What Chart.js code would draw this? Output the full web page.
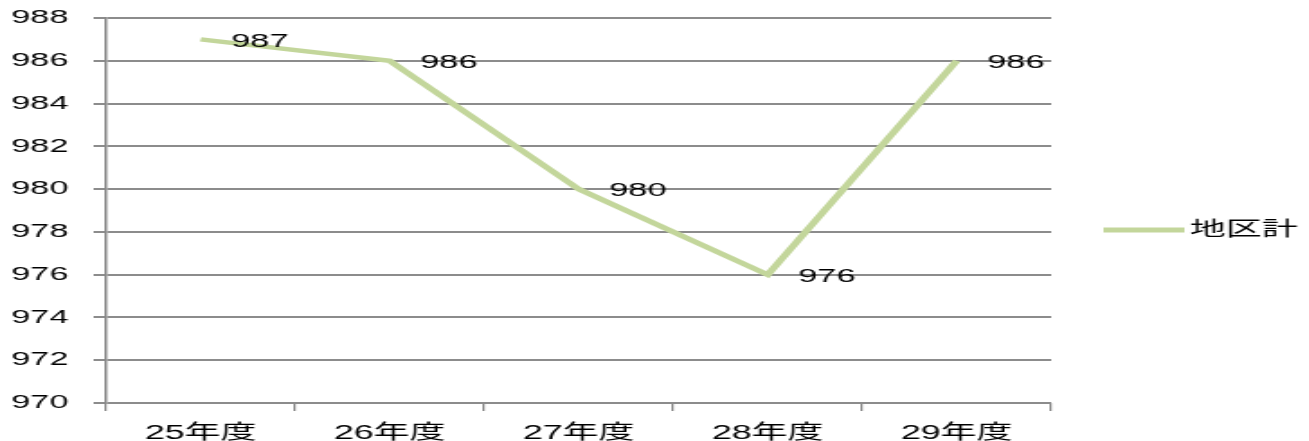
<!DOCTYPE html>
<html>
<head>
<meta charset="utf-8">
<script src="https://cdn.jsdelivr.net/npm/chart.js@4"></script>
<style>
  html, body { margin: 0; padding: 0; background: #fff; overflow: hidden; }
  /* the original picture is a chart stretched sideways, so draw narrow and widen it */
  #wrap { width: 727px; height: 441px; transform: scaleX(1.8); transform-origin: 0 0; }
</style>
</head>
<body>
<div id="wrap"><canvas id="myLineChart" width="727" height="441"></canvas></div>
<script>
// values
const categories = ['25年度', '26年度', '27年度', '28年度', '29年度'];
const seriesName = '地区計';
const totals = [987, 986, 980, 976, 986];
const yTicks = [970, 972, 974, 976, 978, 980, 982, 984, 986, 988];

const lineColor = '#c3d69b';
const font = '"Liberation Sans", "Noto Sans CJK JP", sans-serif';

// value labels to the right of each point + legend on the right
const labelsPlugin = {
  id: 'labels',
  afterDatasetsDraw(chart) {
    const ctx = chart.ctx;
    const meta = chart.getDatasetMeta(0);
    ctx.save();
    ctx.font = '19px ' + font;
    ctx.fillStyle = '#000';
    ctx.textAlign = 'left';
    ctx.textBaseline = 'middle';
    meta.data.forEach((pt, i) => {
      ctx.fillText(String(totals[i]), pt.x + 17, pt.y + 2);
    });
    // legend
    const y = 230;
    ctx.strokeStyle = lineColor;
    ctx.lineWidth = 5;
    ctx.beginPath();
    ctx.moveTo(613, y);
    ctx.lineTo(658, y);
    ctx.stroke();
    ctx.font = '20px ' + font;
    ctx.fillText(seriesName, 661, y);
    ctx.restore();
  }
};

const ctx = document.getElementById('myLineChart').getContext('2d');
const myLineChart = new Chart(ctx, {
  type: 'line',
  data: {
    labels: categories,
    datasets: [{
      label: seriesName,
      data: totals,
      borderColor: lineColor,
      borderWidth: 4.5,
      pointRadius: 0,
      tension: 0,
      fill: false,
    }],
  },
  options: {
    responsive: false,
    animation: false,
    layout: { padding: { top: 18, right: 143, left: 0, bottom: 0 } },
    plugins: {
      legend: { display: false },
      tooltip: { enabled: false },
    },
    scales: {
      x: {
        offset: true,
        grid: {
          offset: true,
          drawOnChartArea: false,
          drawTicks: true,
          tickLength: 8,
          color: '#888',
          lineWidth: 1.2,
        },
        border: { display: false },
        ticks: {
          color: '#000',
          padding: 10,
          font: { family: font, size: 20 },
          maxRotation: 0,
        },
        afterFit(scale) {
          scale.height = 38;
          scale.paddingLeft = 0;
          scale.paddingRight = 0;
        },
      },
      y: {
        min: 970,
        max: 988,
        afterBuildTicks(scale) { scale.ticks = yTicks.map(v => ({ value: v })); },
        grid: {
          color: '#8c8c8c',
          lineWidth: 2,
          tickLength: 7,
        },
        border: { color: '#888', width: 1.5 },
        ticks: {
          color: '#000',
          padding: 14,
          font: { family: font, size: 19 },
        },
        afterFit(scale) {
          scale.width = 59;
          scale.paddingTop = 0;
          scale.paddingBottom = 0;
        },
      },
    },
  },
  plugins: [labelsPlugin],
});
</script>
</body>
</html>
